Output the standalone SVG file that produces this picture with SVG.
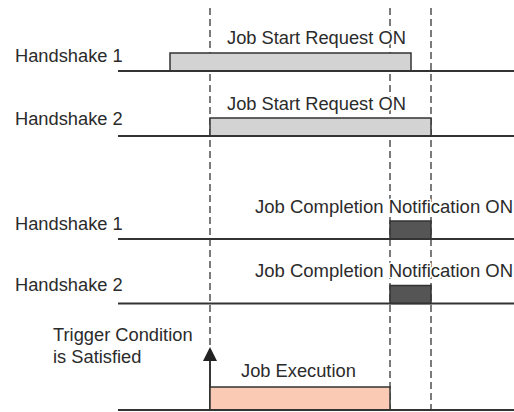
<svg xmlns="http://www.w3.org/2000/svg" width="514" height="412" viewBox="0 0 514 412">
<defs>
<style>
text{font-family:"Liberation Sans",Arial,sans-serif;font-size:18.3px;fill:#2b2b2b}
.lbl{stroke:#fff;stroke-width:3;paint-order:stroke;stroke-linejoin:round}
.base{stroke:#333;stroke-width:1.8;fill:none}
.req{fill:#d3d3d3;stroke:#333;stroke-width:1.5}
.done{fill:#555;stroke:#333;stroke-width:1.5}
.exec{fill:#fbcab4;stroke:#333;stroke-width:1.5}
.dash{stroke:#444;stroke-width:1.4;stroke-dasharray:7 4;fill:none}
</style>
</defs>
<rect width="514" height="412" fill="#fff"/>
<g id="connectors">
<line class="dash" x1="210" y1="8" x2="210" y2="345"/>
<line class="dash" x1="390" y1="8" x2="390" y2="410"/>
<line class="dash" x1="431" y1="8" x2="431" y2="410"/>
<line x1="210" y1="410" x2="210" y2="358" stroke="#222" stroke-width="1.8"/>
<polygon points="210,347 203,361 217,361" fill="#222"/>
</g>
<g id="hs1-start">
<text x="15" y="62">Handshake 1</text>
<polyline class="base" points="118,71 170,71"/>
<polyline class="base" points="411,71 514,71"/>
<rect class="req" x="170" y="53" width="241" height="18"/>
<line x1="170" y1="71" x2="411" y2="71" stroke="#333" stroke-width="1.8"/>
<text class="lbl" x="227" y="44">Job Start Request ON</text>
</g>
<g id="hs2-start">
<text x="15" y="125">Handshake 2</text>
<rect class="req" x="210" y="118" width="221" height="18"/>
<line class="base" x1="118" y1="136" x2="514" y2="136"/>
<text class="lbl" x="227" y="110">Job Start Request ON</text>
</g>
<g id="hs1-done">
<text x="15" y="229.5">Handshake 1</text>
<rect class="done" x="390" y="221" width="41" height="18"/>
<line class="base" x1="118" y1="239" x2="514" y2="239"/>
<text class="lbl" x="255" y="213" style="font-size:18.5px">Job Completion Notification ON</text>
</g>
<g id="hs2-done">
<text x="15" y="291">Handshake 2</text>
<rect class="done" x="390" y="285.5" width="41" height="18"/>
<line class="base" x1="118" y1="303.5" x2="514" y2="303.5"/>
<text class="lbl" x="255" y="277" style="font-size:18.5px">Job Completion Notification ON</text>
</g>
<g id="trigger">
<text x="53" y="341">Trigger Condition</text>
<text x="53" y="363">is Satisfied</text>
</g>
<g id="job-execution">
<rect class="exec" x="210" y="387" width="180" height="23"/>
<line class="base" x1="118" y1="410" x2="514" y2="410"/>
<text x="241" y="377">Job Execution</text>
</g>
</svg>
